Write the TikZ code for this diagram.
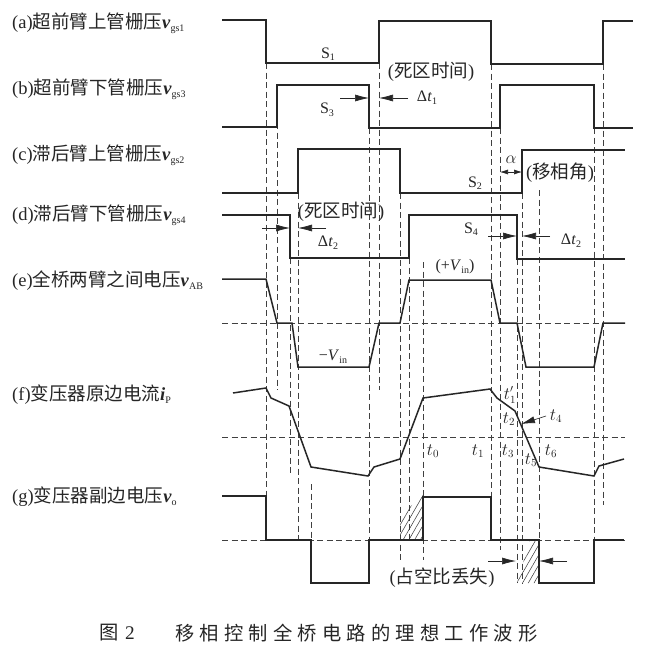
\documentclass[tikz,border=0pt]{standalone}
\usepackage{fontspec}
\setmainfont{Liberation Serif}
\newfontfamily\cjk{Noto Sans CJK SC}
\usetikzlibrary{arrows.meta,patterns.meta}
\newcommand\mysub[1]{\raisebox{-0.35ex}{\fontsize{10}{10}\selectfont #1}}
\newcommand\capgap{\hspace{5.2pt}}
\begin{document}
\begin{tikzpicture}[x=1pt,y=-1pt,
  wave/.style={line width=1.5pt, black!85, line join=miter},
  guide/.style={line width=0.6pt, black!75, dash pattern=on 6pt off 3.5pt},
  dimarrow/.style={line width=0.6pt, black!85, -{Latex[length=14pt,width=7pt]}},
  lab/.style={font=\fontsize{18.5}{21}\selectfont, inner sep=0pt, anchor=west, black!85},
  txt/.style={font=\fontsize{16}{18}\selectfont, inner sep=0pt, black!85},
  cjktxt/.style={font=\fontsize{18.5}{21}\selectfont, inner sep=0pt, black!85},
  hatch/.style={pattern={Lines[angle=60,distance=5pt,line width=0.5pt]}, pattern color=black!80},
  captionstyle/.style={font=\fontsize{19.3}{22}\selectfont, inner sep=0pt, anchor=west, black!85}
]
\useasboundingbox (0,0) rectangle (647,648);
\fill[white] (0,0) rectangle (647,648);

% zero reference lines
\draw[guide] (222,323) -- (625,323);
\draw[guide] (222,437) -- (625,437);
\draw[guide] (222,540) -- (625,540);

% vertical timing guides
\foreach \x/\ya/\yb in {266/63/540, 277/85/390, 290/258/474, 298/193/540, 311/484/540,
  369/128/540, 379/63/390, 400/193/563, 409/258/540, 423/262/560,
  491/64/540, 500/128/550, 517/259/583, 522/193/583, 539/190/540,
  594/128/540, 603/64/505}
  \draw[guide] (\x,\ya) -- (\x,\yb);

% hatched regions
\fill[hatch] (400,540) -- (400,517) -- (423,494) -- (423,540) -- cycle;
\fill[hatch] (517,583) -- (530,540) -- (539,540) -- (539,583) -- cycle;

% (a)
\draw[wave] (222,20) -- (266,20) -- (266,63) -- (379,63) -- (379,21) -- (491,21) -- (491,64) -- (603,64) -- (603,21) -- (633,21);
% (b)
\draw[wave] (222,127) -- (277,127) -- (277,85) -- (369,85) -- (369,128) -- (500,128) -- (500,85) -- (594,85) -- (594,128) -- (633,128);
% (c)
\draw[wave] (222,193) -- (298,193) -- (298,149) -- (400,149) -- (400,193) -- (522,193) -- (522,150) -- (625,150);
% (d)
\draw[wave] (222,215) -- (290,215) -- (290,258) -- (409,258) -- (409,215) -- (517,215) -- (517,259) -- (625,259);
% (e)
\draw[wave] (222,279) -- (266,279) -- (277,323) -- (292,323) -- (298,367) -- (369,367) -- (379,323) -- (400,323) -- (409,280) -- (491,280) -- (500,323) -- (517,323) -- (526,367) -- (594,367) -- (603,323) -- (625,323);
% (f)
\draw[wave] (233,393) -- (266,388) -- (271,398) -- (289,406) -- (311,467) -- (368,476) -- (374,467) -- (400,459) -- (423,398) -- (490,389) -- (497,398) -- (515,411) -- (539,467) -- (594,476) -- (599,466) -- (624,459);
% (g)
\draw[wave] (222,496) -- (266,496) -- (266,540) -- (311,540) -- (311,583) -- (369,583) -- (369,540) -- (423,540) -- (423,497) -- (491,497) -- (491,540) -- (539,540) -- (539,583) -- (594,583) -- (594,540) -- (624,540);

% dimension arrows
\coordinate (dt1a) at (340,98);  \coordinate (dt1b) at (369,98);
\coordinate (dt1c) at (408,98);  \coordinate (dt1d) at (379,98);
\draw[dimarrow] (dt1a) -- (dt1b);
\draw[dimarrow] (dt1c) -- (dt1d);
\coordinate (dt2a) at (262,228); \coordinate (dt2b) at (290,228);
\coordinate (dt2c) at (326,228); \coordinate (dt2d) at (298,228);
\draw[dimarrow] (dt2a) -- (dt2b);
\draw[dimarrow] (dt2c) -- (dt2d);
\coordinate (dt3a) at (488,236); \coordinate (dt3b) at (517,236);
\coordinate (dt3c) at (550,236); \coordinate (dt3d) at (522,236);
\draw[dimarrow] (dt3a) -- (dt3b);
\draw[dimarrow] (dt3c) -- (dt3d);
\coordinate (ala) at (500,172); \coordinate (alb) at (522,172);
\draw[line width=0.6pt, black!85, {Latex[length=8pt,width=5pt]}-{Latex[length=8pt,width=5pt]}] (ala) -- (alb);
\coordinate (t4a) at (546,416); \coordinate (t4b) at (521,424);
\draw[dimarrow] (t4a) -- (t4b);
\coordinate (dua) at (488,561); \coordinate (dub) at (516,561);
\coordinate (duc) at (567,561); \coordinate (dud) at (539,561);
\draw[dimarrow] (dua) -- (dub);
\draw[dimarrow] (duc) -- (dud);

% left labels
\node[lab] (la) at (12,23) {(a){\cjk 超前臂上管栅压}\textbf{\textit{v}}\mysub{gs1}};
\node[lab] (lb) at (12,89) {(b){\cjk 超前臂下管栅压}\textbf{\textit{v}}\mysub{gs3}};
\node[lab] (lc) at (12,155) {(c){\cjk 滞后臂上管栅压}\textbf{\textit{v}}\mysub{gs2}};
\node[lab] (ld) at (12,215) {(d){\cjk 滞后臂下管栅压}\textbf{\textit{v}}\mysub{gs4}};
\node[lab] (le) at (12,281) {(e){\cjk 全桥两臂之间电压}\textbf{\textit{v}}\mysub{AB}};
\node[lab] (lf) at (12,395) {(f){\cjk 变压器原边电流}\textbf{\textit{i}}\mysub{P}};
\node[lab] (lg) at (12,497) {(g){\cjk 变压器副边电压}\textbf{\textit{v}}\mysub{o}};

% waveform annotations
\node[txt] (s1) at (328,54) {S\mysub{1}};
\node[txt] (s3) at (327,110) {S\mysub{3}};
\node[txt] (s2) at (475,183) {S\mysub{2}};
\node[txt] (s4) at (471,229) {S\mysub{4}};
\node[cjktxt] (dz1) at (431,72) {({\cjk 死区时间})};
\node[cjktxt] (dz2) at (341,212) {({\cjk 死区时间})};
\node[txt] (dt1) at (427,98) {Δ\textit{t}\mysub{1}};
\node[txt] (dt2) at (328,243) {Δ\textit{t}\mysub{2}};
\node[txt] (dt2r) at (571,241) {Δ\textit{t}\mysub{2}};
\node[txt] (al) at (511,160) {$\alpha$};
\node[cjktxt] (ph) at (560,173) {({\cjk 移相角})};
\node[txt] (pv) at (455,267) {(+\textit{V}\mysub{in})};
\node[txt] (nv) at (333,357) {−\textit{V}\mysub{in}};
\node[txt] (t0) at (433,451) {$t_0$};
\node[txt] (t1) at (478,451) {$t_1$};
\node[txt] (t3) at (508,451) {$t_3$};
\node[txt] (t6) at (551,451) {$t_6$};
\node[txt] (t5) at (531,460) {$t_5$};
\node[txt] (t2) at (509,419) {$t_2$};
\node[txt] (t1p) at (510,395) {$t_1'$};
\node[txt] (t4) at (556,416) {$t_4$};
\node[cjktxt] (duty) at (442,578) {({\cjk 占空比丢失})};

% caption
\node[captionstyle] (fig) at (99,633) {\cjk 图};
\node[captionstyle] (fignum) at (125,633) {2};
\node[captionstyle] (captext) at (175,633) {\cjk 移\capgap 相\capgap 控\capgap 制\capgap 全\capgap 桥\capgap 电\capgap 路\capgap 的\capgap 理\capgap 想\capgap 工\capgap 作\capgap 波\capgap 形};
\end{tikzpicture}
\end{document}
